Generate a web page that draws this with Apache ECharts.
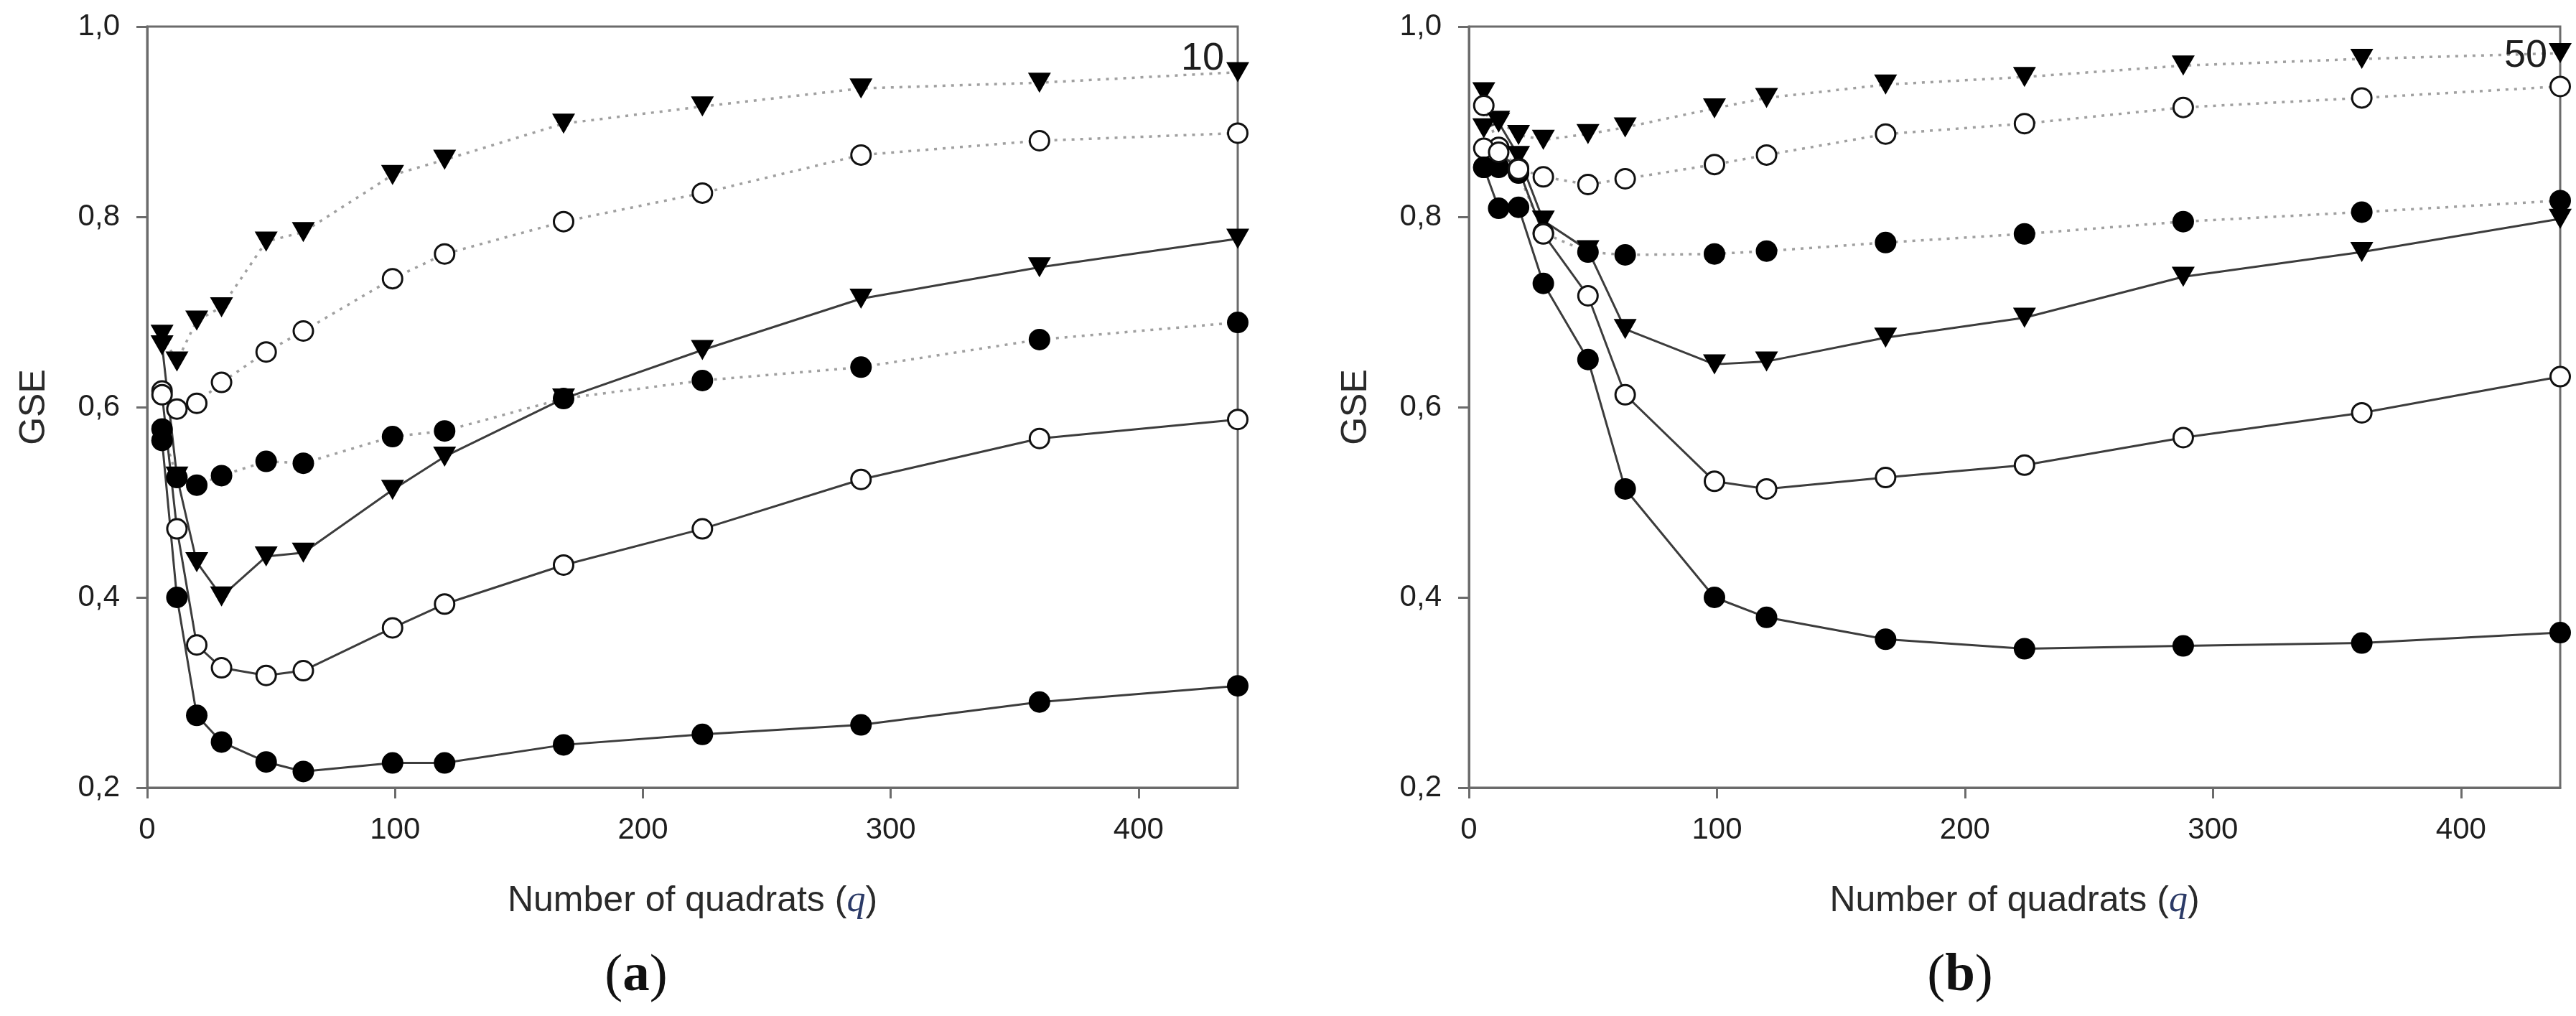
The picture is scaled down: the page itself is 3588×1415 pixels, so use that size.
<!DOCTYPE html>
<html>
<head>
<meta charset="utf-8">
<script src="https://cdn.jsdelivr.net/npm/echarts@6/dist/echarts.min.js"></script>
<style>
    html, body {
        margin: 0;
        padding: 0;
        background: #ffffff;
    }
    #chart {
        width: 3588px;
        height: 1415px;
    }
</style>
</head>
<body>
<div id="chart"></div>
<script>
// number of quadrats (x) shared by both panels
const quadrats = [6, 12, 20, 30, 48, 63, 99, 120, 168, 224, 288, 360, 440];
const xTickValues = [0, 100, 200, 300, 400];

// panel (a), 10
const aTriDotted = [0.676, 0.648, 0.691, 0.705, 0.774, 0.784, 0.844, 0.860, 0.898, 0.916, 0.935, 0.941, 0.952];
const aOpenDotted = [0.617, 0.598, 0.604, 0.626, 0.658, 0.680, 0.735, 0.761, 0.795, 0.825, 0.865, 0.880, 0.888];
const aDotDotted = [0.577, 0.526, 0.518, 0.528, 0.543, 0.541, 0.569, 0.575, 0.609, 0.628, 0.642, 0.671, 0.689];
const aTriSolid = [0.665, 0.527, 0.437, 0.401, 0.443, 0.447, 0.513, 0.548, 0.609, 0.660, 0.714, 0.747, 0.777];
const aOpenSolid = [0.613, 0.472, 0.350, 0.326, 0.318, 0.323, 0.368, 0.393, 0.434, 0.472, 0.524, 0.567, 0.587];
const aDotSolid = [0.565, 0.400, 0.276, 0.248, 0.227, 0.217, 0.226, 0.226, 0.245, 0.256, 0.266, 0.290, 0.307];

// panel (b), 50
const bTriDotted = [0.931, 0.901, 0.886, 0.881, 0.887, 0.894, 0.914, 0.925, 0.939, 0.947, 0.959, 0.966, 0.972];
const bOpenDotted = [0.917, 0.873, 0.851, 0.842, 0.834, 0.840, 0.855, 0.865, 0.887, 0.898, 0.915, 0.925, 0.937];
const bDotDotted = [0.852, 0.852, 0.846, 0.783, 0.763, 0.760, 0.761, 0.764, 0.773, 0.782, 0.795, 0.805, 0.817];
const bTriSolid = [0.893, 0.899, 0.864, 0.796, 0.765, 0.682, 0.645, 0.648, 0.673, 0.694, 0.737, 0.763, 0.798];
const bOpenSolid = [0.872, 0.868, 0.850, 0.782, 0.717, 0.613, 0.522, 0.514, 0.526, 0.539, 0.568, 0.594, 0.632];
const bDotSolid = [0.852, 0.809, 0.810, 0.730, 0.650, 0.514, 0.400, 0.379, 0.356, 0.346, 0.349, 0.352, 0.363];

const panelTags = ['10', '50'];
const panelCaptions = ['a', 'b'];

const frameColor = '#6b6b6b';
const solidColor = '#3c3c3c';
const dottedColor = '#a0a0a0';
const sansFont = '"Liberation Sans", Arial, sans-serif';
const serifFont = '"Liberation Serif", "Times New Roman", serif';

const markers = {
    tri: { symbol: 'triangle', symbolSize: [32, 28], symbolRotate: 180, itemStyle: { color: '#000', opacity: 1 } },
    open: { symbol: 'circle', symbolSize: 27, itemStyle: { color: '#fff', borderColor: '#111', borderWidth: 3, opacity: 1 } },
    dot: { symbol: 'circle', symbolSize: 30, itemStyle: { color: '#000', opacity: 1 } }
};

function pairs(values) {
    return quadrats.map((q, i) => [q, values[i]]);
}

function makeSeries(values, kind, dotted, axisIndex) {
    const data = pairs(values);
    const line = {
        type: 'line',
        xAxisIndex: axisIndex,
        yAxisIndex: axisIndex,
        data: data,
        symbol: 'none',
        z: 2,
        silent: true,
        lineStyle: dotted
            ? { color: dottedColor, width: 3.5, type: [4, 8] }
            : { color: solidColor, width: 3 }
    };
    const dots = Object.assign({
        type: 'scatter',
        xAxisIndex: axisIndex,
        yAxisIndex: axisIndex,
        data: data,
        z: 3,
        silent: true
    }, markers[kind]);
    return [line, dots];
}

function xAxisFor(gridIndex) {
    return {
        type: 'value',
        gridIndex: gridIndex,
        min: 0,
        max: 440,
        interval: 100,
        name: 'Number of quadrats ({q|q})',
        nameLocation: 'middle',
        nameGap: 132,
        nameTextStyle: {
            fontFamily: sansFont,
            fontSize: 50,
            color: '#2a2a2a',
            rich: {
                q: { fontFamily: serifFont, fontStyle: 'italic', fontSize: 52, color: '#2b3a67' }
            }
        },
        axisLine: { lineStyle: { color: frameColor, width: 3 } },
        axisTick: { inside: false, length: 15, customValues: xTickValues, lineStyle: { color: frameColor, width: 3 } },
        axisLabel: {
            customValues: xTickValues,
            margin: 38,
            fontFamily: sansFont,
            fontSize: 42,
            color: '#1e1e1e',
            formatter: v => (v > 400 ? '' : String(v))
        },
        splitLine: { show: false }
    };
}

function yAxisFor(gridIndex) {
    return {
        type: 'value',
        gridIndex: gridIndex,
        min: 0.2,
        max: 1.0,
        interval: 0.2,
        name: 'GSE',
        nameLocation: 'middle',
        nameGap: 132,
        nameTextStyle: { fontFamily: sansFont, fontSize: 50, color: '#2a2a2a' },
        axisLine: { show: true, lineStyle: { color: frameColor, width: 3 } },
        axisTick: { show: true, inside: false, length: 15, lineStyle: { color: frameColor, width: 3 } },
        axisLabel: {
            margin: 38,
            fontFamily: sansFont,
            fontSize: 42,
            color: '#1e1e1e',
            formatter: v => v.toFixed(1).replace('.', ',')
        },
        splitLine: { show: false }
    };
}

function drawChart() {
    var myChart = echarts.init(document.getElementById('chart'), null, { renderer: 'canvas' });

    const panelA = [
        makeSeries(aTriDotted, 'tri', true, 0),
        makeSeries(aOpenDotted, 'open', true, 0),
        makeSeries(aDotDotted, 'dot', true, 0),
        makeSeries(aTriSolid, 'tri', false, 0),
        makeSeries(aOpenSolid, 'open', false, 0),
        makeSeries(aDotSolid, 'dot', false, 0)
    ];
    const panelB = [
        makeSeries(bTriDotted, 'tri', true, 1),
        makeSeries(bOpenDotted, 'open', true, 1),
        makeSeries(bDotDotted, 'dot', true, 1),
        makeSeries(bTriSolid, 'tri', false, 1),
        makeSeries(bOpenSolid, 'open', false, 1),
        makeSeries(bDotSolid, 'dot', false, 1)
    ];
    const series = [].concat(...panelA, ...panelB);

    const captionText = letter => ({
        type: 'text',
        style: {
            text: '({b|' + letter + '})',
            font: '75px ' + serifFont,
            fill: '#111',
            align: 'center',
            verticalAlign: 'middle',
            rich: { b: { fontFamily: serifFont, fontSize: 75, fontWeight: 'bold', fill: '#111' } }
        }
    });

    const tagText = text => ({
        type: 'text',
        style: { text: text, font: '54px ' + sansFont, fill: '#1e1e1e', align: 'center', verticalAlign: 'middle' },
        z: 10
    });

    myChart.setOption({
        backgroundColor: '#ffffff',
        animation: false,
        grid: [
            { left: 205, right: 1864, top: 37, bottom: 318, show: true, borderColor: frameColor, borderWidth: 3 },
            { left: 2046, right: 22, top: 37, bottom: 318, show: true, borderColor: frameColor, borderWidth: 3 }
        ],
        xAxis: [xAxisFor(0), xAxisFor(1)],
        yAxis: [yAxisFor(0), yAxisFor(1)],
        series: series,
        graphic: [
            Object.assign({ x: 1675, y: 82 }, tagText(panelTags[0])),
            Object.assign({ x: 3518, y: 78 }, tagText(panelTags[1])),
            Object.assign({ x: 886, y: 1360 }, captionText(panelCaptions[0])),
            Object.assign({ x: 2730, y: 1360 }, captionText(panelCaptions[1]))
        ]
    });
}

drawChart();
</script>
</body>
</html>
